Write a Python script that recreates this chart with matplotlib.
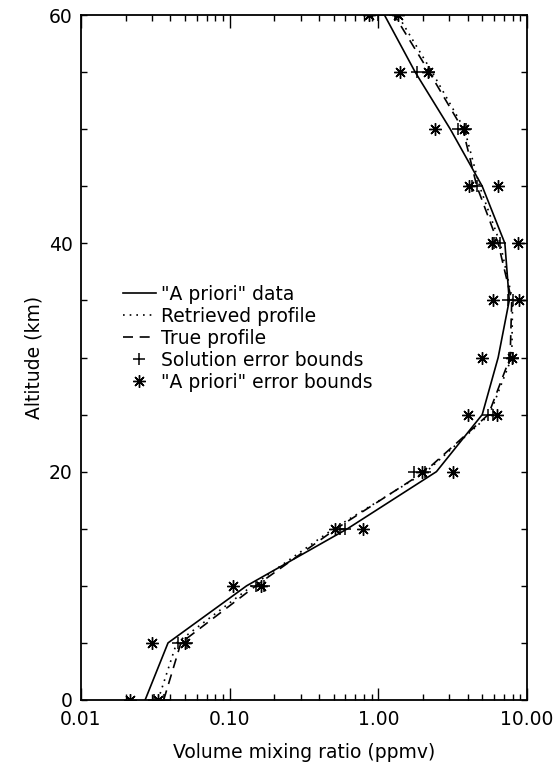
import matplotlib
matplotlib.use("Agg")
import matplotlib.pyplot as plt
from matplotlib.ticker import FixedLocator, NullFormatter

# altitude grid (km)
altitude = [0, 5, 10, 15, 20, 25, 30, 35, 40, 45, 50, 55, 60]

# profiles (ppmv)
apriori = [0.027, 0.0385, 0.13, 0.62, 2.46, 5.0, 6.4, 7.6, 7.1, 5.0, 3.05, 1.77, 1.1]
retrieved = [0.033, 0.044, 0.142, 0.50, 2.1, 5.6, 7.9, 8.0, 6.6, 4.8, 3.8, 2.3, 1.35]
true_prof = [0.036, 0.047, 0.15, 0.52, 2.05, 5.5, 7.7, 7.9, 6.4, 4.6, 3.7, 2.2, 1.28]

# error bounds (ppmv)
sol_lo = [0.031, 0.045, 0.15, 0.55, 1.74, 5.5, 7.6, 7.5, 6.0, 4.3, 3.46, 1.82, 1.0]
sol_hi = [0.036, 0.052, 0.17, 0.60, 2.05, 5.9, 8.1, 8.0, 6.6, 4.6, 3.9, 2.2, 1.3]
apr_lo = [0.0214, 0.030, 0.106, 0.51, 1.98, 4.0, 5.0, 5.93, 5.8, 4.09, 2.40, 1.39, 0.86]
apr_hi = [0.0332, 0.050, 0.163, 0.79, 3.17, 6.3, 7.9, 8.9, 8.75, 6.43, 3.79, 2.16, 1.35]

x_major = [0.01, 0.1, 1.0, 10.0]
x_major_labels = ["0.01", "0.10", "1.00", "10.00"]
y_major = [0, 20, 40, 60]

plt.rcParams['font.family'] = ['DejaVu Sans']
fs = 13.5

fig = plt.figure(figsize=(5.57, 7.63), dpi=100)
ax = fig.add_axes([0.1454, 0.0826, 0.8007, 0.8977])

ax.plot(apriori, altitude, color='black', lw=1.2, label='"A priori" data')
ax.plot(retrieved, altitude, color='black', lw=1.2, linestyle=(0, (1, 3)),
        label='Retrieved profile')
ax.plot(true_prof, altitude, color='black', lw=1.2, linestyle=(0, (6, 4)),
        label='True profile')

ax.plot(sol_lo, altitude, linestyle='none', marker='+', color='black',
        markersize=8, markeredgewidth=1.1, label='Solution error bounds')
ax.plot(sol_hi, altitude, linestyle='none', marker='+', color='black',
        markersize=8, markeredgewidth=1.1)
ast = (8, 2, 0)
ax.plot(apr_lo, altitude, linestyle='none', marker=ast, color='black',
        markersize=9, markeredgewidth=1.0, label='"A priori" error bounds')
ax.plot(apr_hi, altitude, linestyle='none', marker=ast, color='black',
        markersize=9, markeredgewidth=1.0)

ax.set_xscale('log')
ax.set_xlim(0.01, 10)
ax.set_ylim(0, 60)

ax.xaxis.set_major_locator(FixedLocator(x_major))
ax.set_xticklabels(x_major_labels)
minors = [m * d for d in [0.01, 0.1, 1.0] for m in range(2, 10)]
ax.xaxis.set_minor_locator(FixedLocator(minors))
ax.xaxis.set_minor_formatter(NullFormatter())
ax.yaxis.set_major_locator(FixedLocator(y_major))
ax.yaxis.set_minor_locator(FixedLocator(list(range(5, 60, 5))))

ax.tick_params(axis='both', which='both', direction='in', top=True, right=True,
               labelsize=fs, width=1.0)
ax.tick_params(axis='x', which='major', length=9, pad=7)
ax.tick_params(axis='x', which='minor', length=4.5)
ax.tick_params(axis='y', which='both', length=4, pad=6)
for s in ax.spines.values():
    s.set_linewidth(1.3)

ax.set_xlabel('Volume mixing ratio (ppmv)', fontsize=fs, labelpad=10)
ax.set_ylabel('Altitude (km)', fontsize=fs, labelpad=4)

ax.legend(loc='upper left', bbox_to_anchor=(0.094, 0.606), frameon=False,
          fontsize=fs, handlelength=1.75, handletextpad=0.3, labelspacing=0.16,
          borderpad=0, borderaxespad=0)

fig.savefig('out.png', dpi=100)
